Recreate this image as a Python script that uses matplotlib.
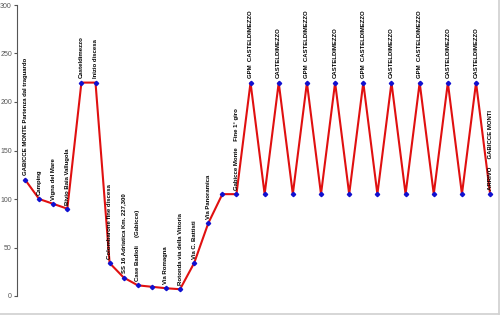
import matplotlib
matplotlib.use("Agg")
import matplotlib.pyplot as plt
from matplotlib.lines import Line2D

# altitude profile (m) along the route
quote = [120, 100, 95, 90, 220, 220, 34, 19, 11, 9.5, 8, 7, 34, 75, 105, 105,
         220, 105, 220, 105, 220, 105, 220, 105, 220, 105, 220, 105, 220, 105,
         220, 105, 220, 105]

etichette = ["GABICCE MONTE Partenza dal traguardo", "Camping", "Vigna del Mare",
             "Bivio Baia Vallugola", "Casteldimezzo", "Inizio discesa",
             "Colombarone fine discesa", "SS 16 Adriatica Km. 227,300",
             "Case Badioli     (Gabicce)", "", "Via Romagna",
             "Rotonda via della Vittoria", "Via C. Battisti", "Via Panoramica", "",
             "Gabicce Monte    Fine 1° giro",
             "GPM  CASTELDIMEZZO", "", "CASTELDIMEZZO", "",
             "GPM  CASTELDIMEZZO", "", "CASTELDIMEZZO", "",
             "GPM  CASTELDIMEZZO", "", "CASTELDIMEZZO", "",
             "GPM  CASTELDIMEZZO", "", "CASTELDIMEZZO", "",
             "CASTELDIMEZZO", "ARRIVO     GABICCE MONTI"]

yticks = [0, 50, 100, 150, 200, 250, 300]

plt.rcParams['font.family'] = ['Liberation Sans', 'DejaVu Sans']

fig = plt.figure(figsize=(5.0, 3.16), dpi=100)
ax = fig.add_axes([17/500, 20/316, 483/500, 291/316])

x = list(range(len(quote)))
ax.plot(x, quote, color='#e01010', lw=1.5, zorder=2)
ax.plot(x, quote, ls='none', marker='D', ms=2.2, color='#1010d0', zorder=3)

for xi, yi, lab in zip(x, quote, etichette):
    if lab:
        ax.annotate(lab, (xi, yi), xytext=(0, 3), textcoords='offset points',
                    rotation=90, ha='center', va='bottom', fontsize=4.3,
                    fontweight='bold', color='black')

ax.set_xlim(-0.57, 33.7)
ax.set_ylim(0, 300)
ax.set_yticks(yticks)
ax.set_xticks([])
ax.tick_params(axis='y', labelsize=5, labelcolor='#555555', length=2.5,
               width=0.8, color='#555555', pad=1.2)
for s in ['top', 'right', 'bottom']:
    ax.spines[s].set_visible(False)
ax.spines['left'].set_color('#555555')
ax.spines['left'].set_linewidth(0.8)

# light frame at bottom and right of the chart area
fig.add_artist(Line2D([0, 0.998], [0.006, 0.006], transform=fig.transFigure,
                      color='#d0d0d0', lw=1.2))
fig.add_artist(Line2D([0.998, 0.998], [0.006, 1], transform=fig.transFigure,
                      color='#d0d0d0', lw=1.2))

fig.savefig('out.png', dpi=100)
